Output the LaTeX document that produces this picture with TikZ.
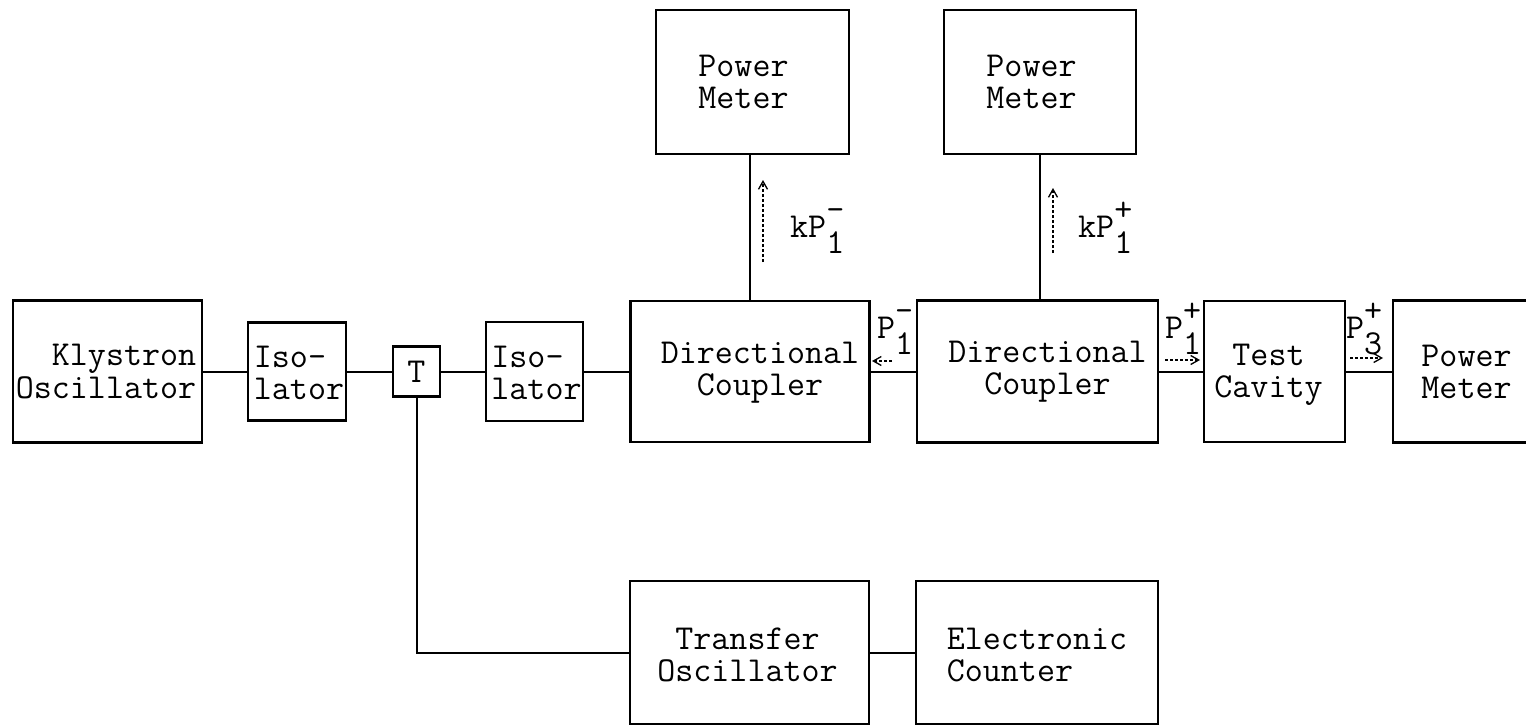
\documentclass[tikz,border=0pt]{standalone}
\usepackage{fontspec}
\usetikzlibrary{arrows.meta}
\newcommand\pwlab[3]{#1\rlap{\raisebox{-16pt}{#3}}\raisebox{17pt}{#2}}
% box text: {dx}{dy = centre - first baseline}{baselineskip}{column}{lines}
\newcommand\bx[5]{\makebox[0pt]{\kern#1pt\kern#1pt\raisebox{#2pt}[0pt][0pt]{\fontsize{35}{#3}\selectfont\begin{tabular}[t]{@{}#4@{}}#5\end{tabular}}}}
\begin{document}
\begin{tikzpicture}[x=1pt,y=-1pt,
  box/.style={draw, line width=2.5pt, inner sep=0pt, font=\ttfamily\fontsize{35}{32}\selectfont},
  wire/.style={line width=2pt},
  flow/.style={line width=1.3pt, densely dashed, -{Straight Barb[length=8pt,width=9pt]}},
  lab/.style={font=\ttfamily\fontsize{35}{32}\selectfont, inner sep=0pt, anchor=base west}]
\useasboundingbox (0,0) rectangle (1526,726);
% main row
\node[box, minimum width=189pt, minimum height=142pt] (kly) at (107.5,371.5) {\bx{-1.5}{6.5}{33}{r}{Klystron\\Oscillator}};
\node[box, minimum width=98pt, minimum height=98pt] (iso1) at (297,371.5) {\bx{2}{4.5}{32}{l}{Iso-\\lator}};
\node[box, minimum width=47pt, minimum height=50pt] (tee) at (416.5,371.5) {T};
\node[box, minimum width=97pt, minimum height=99pt] (iso2) at (534.5,371.5) {\bx{2}{4.5}{32}{l}{Iso-\\lator}};
\node[box, minimum width=239pt, minimum height=141pt] (dc1) at (750,371.5) {\bx{10}{8.5}{32}{c}{Directional\\Coupler}};
\node[box, minimum width=241pt, minimum height=142pt] (dc2) at (1037.5,371.5) {\bx{10}{9.5}{32}{c}{Directional\\Coupler}};
\node[box, minimum width=141pt, minimum height=141pt] (tc) at (1274.5,371.5) {\bx{-6}{6}{32}{c}{Test\\Cavity}};
\node[box, minimum width=140pt, minimum height=142pt] (pm3) at (1463,371.5) {\bx{3.5}{5}{32}{c}{Power\\Meter}};
% top row
\node[box, minimum width=193pt, minimum height=144pt] (pm1) at (752.5,82) {\bx{-9}{6}{32}{c}{Power\\Meter}};
\node[box, minimum width=192pt, minimum height=144pt] (pm2) at (1040,82) {\bx{-8.5}{6}{32}{c}{Power\\Meter}};
% bottom row
\node[box, minimum width=239pt, minimum height=143pt] (tro) at (749.5,652.5) {\bx{-2}{3}{32}{c}{Transfer\\Oscillator}};
\node[box, minimum width=242pt, minimum height=143pt] (cnt) at (1037,652.5) {\bx{0}{3}{32}{l}{Electronic\\Counter}};
% connectors
\draw[wire] (kly) -- (iso1) -- (tee) -- (iso2) -- (dc1) -- (dc2) -- (tc) -- (pm3);
\draw[wire] (tee) |- (tro);
\draw[wire] (tro) -- (cnt);
\draw[wire] (dc1.north) -- (dc1.north |- pm1.south);
\draw[wire] (pm2.south) -- (pm2.south |- dc2.north);
% flow arrows
\coordinate (a1s) at (763,262); \coordinate (a1e) at (763,180);
\coordinate (a2s) at (1053,253); \coordinate (a2e) at (1053,188);
\coordinate (a3s) at (892,361); \coordinate (a3e) at (872,361);
\coordinate (a4s) at (1165,360); \coordinate (a4e) at (1200,360);
\coordinate (a5s) at (1350,358); \coordinate (a5e) at (1383,358);
\draw[flow] (a1s) -- (a1e);
\draw[flow] (a2s) -- (a2e);
\draw[flow] (a3s) -- (a3e);
\draw[flow] (a4s) -- (a4e);
\draw[flow] (a5s) -- (a5e);
% labels
\node[lab] (l1) at (790,237) {k\pwlab{P}{-}{1}};
\node[lab] (l2) at (1078,237) {k\pwlab{P}{+}{1}};
\node[lab] (l3) at (877,338) {\pwlab{P}{-}{1}};
\node[lab] (l4) at (1165,338) {\pwlab{P}{+}{1}};
\node[lab] (l5) at (1346,338) {\pwlab{P}{+}{3}};
\end{tikzpicture}
\end{document}
